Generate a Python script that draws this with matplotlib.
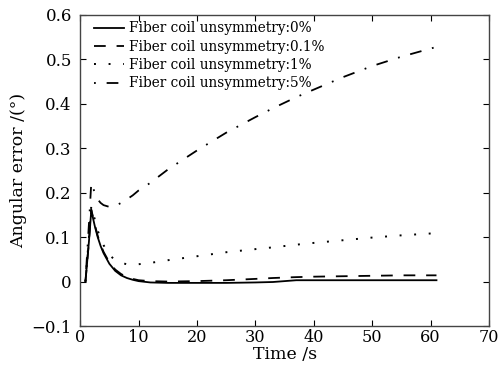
"""Angular error vs time for different fiber coil unsymmetry."""

import matplotlib

matplotlib.use("Agg")
import matplotlib.pyplot as plt

time_s = [0.9, 1.5, 1.9, 2.5, 3.0, 3.5, 4.0, 5.0, 6.0, 7.0, 8.0, 9.0, 10.0, 12.0, 15.0,
          20.0, 25.0, 30.0, 33.0, 37.0, 40.0, 45.0, 50.0, 55.0, 61.0]

err_0 = [0.0, 0.09, 0.160, 0.125, 0.100, 0.080, 0.064, 0.040, 0.024, 0.014, 0.008, 0.004,
         0.001, -0.002, -0.003, -0.003, -0.003, -0.002, -0.001, 0.003, 0.003, 0.003, 0.003,
         0.003, 0.003]
err_01 = [0.0, 0.09, 0.162, 0.128, 0.103, 0.083, 0.067, 0.043, 0.027, 0.017, 0.010, 0.006,
          0.003, 0.001, 0.0, 0.001, 0.003, 0.006, 0.008, 0.010, 0.011, 0.012, 0.013,
          0.014, 0.014]
err_1 = [0.0, 0.10, 0.170, 0.140, 0.115, 0.097, 0.082, 0.060, 0.048, 0.042, 0.039, 0.038,
         0.039, 0.042, 0.048, 0.057, 0.066, 0.073, 0.077, 0.083, 0.087, 0.093, 0.099,
         0.104, 0.109]
err_5 = [0.0, 0.13, 0.222, 0.200, 0.185, 0.177, 0.172, 0.168, 0.170, 0.177, 0.185, 0.194,
         0.205, 0.222, 0.252, 0.295, 0.335, 0.370, 0.390, 0.415, 0.432, 0.460, 0.485,
         0.506, 0.528]

labels = ["Fiber coil unsymmetry:0%", "Fiber coil unsymmetry:0.1%",
          "Fiber coil unsymmetry:1%", "Fiber coil unsymmetry:5%"]

plt.rcParams["font.family"] = "DejaVu Serif"

fig = plt.figure(figsize=(4.98, 3.73), dpi=100)
ax = fig.add_axes([0.161, 0.126, 0.821, 0.834])

ax.plot(time_s, err_0, color="black", lw=1.3, ls="-", label=labels[0])
ax.plot(time_s, err_01, color="black", lw=1.3, ls=(0, (6.5, 6)), label=labels[1])
ax.plot(time_s, err_1, color="black", lw=1.4, ls=(0, (1, 6.5)), label=labels[2])
ax.plot(time_s, err_5, color="black", lw=1.3, ls=(0, (1, 6, 6.5, 6)), label=labels[3])

ax.set_xlim(0, 70)
ax.set_ylim(-0.1, 0.6)
ax.set_xticks(range(0, 71, 10))
ax.set_yticks([-0.1, 0, 0.1, 0.2, 0.3, 0.4, 0.5, 0.6])
ax.set_yticklabels(["\u22120.1", "0", "0.1", "0.2", "0.3", "0.4", "0.5", "0.6"])
ax.tick_params(direction="in", top=True, right=True, length=4, width=0.8,
               labelsize=12)
ax.tick_params(axis="y", pad=6)
ax.tick_params(axis="x", pad=2, labelsize=11.6)
for spine in ax.spines.values():
    spine.set_color("#444444")
    spine.set_linewidth(1.0)

ax.set_xlabel("Time /s", fontsize=12.5, labelpad=0)
ax.set_ylabel("Angular error /(\u00b0)", fontsize=12.5, labelpad=3)

ax.legend(loc="upper left", frameon=False, fontsize=9.8, handlelength=2.2,
          handletextpad=0.35, labelspacing=0.32, borderaxespad=0.0,
          bbox_to_anchor=(0.02, 0.997))

fig.savefig("out.png", dpi=100)
